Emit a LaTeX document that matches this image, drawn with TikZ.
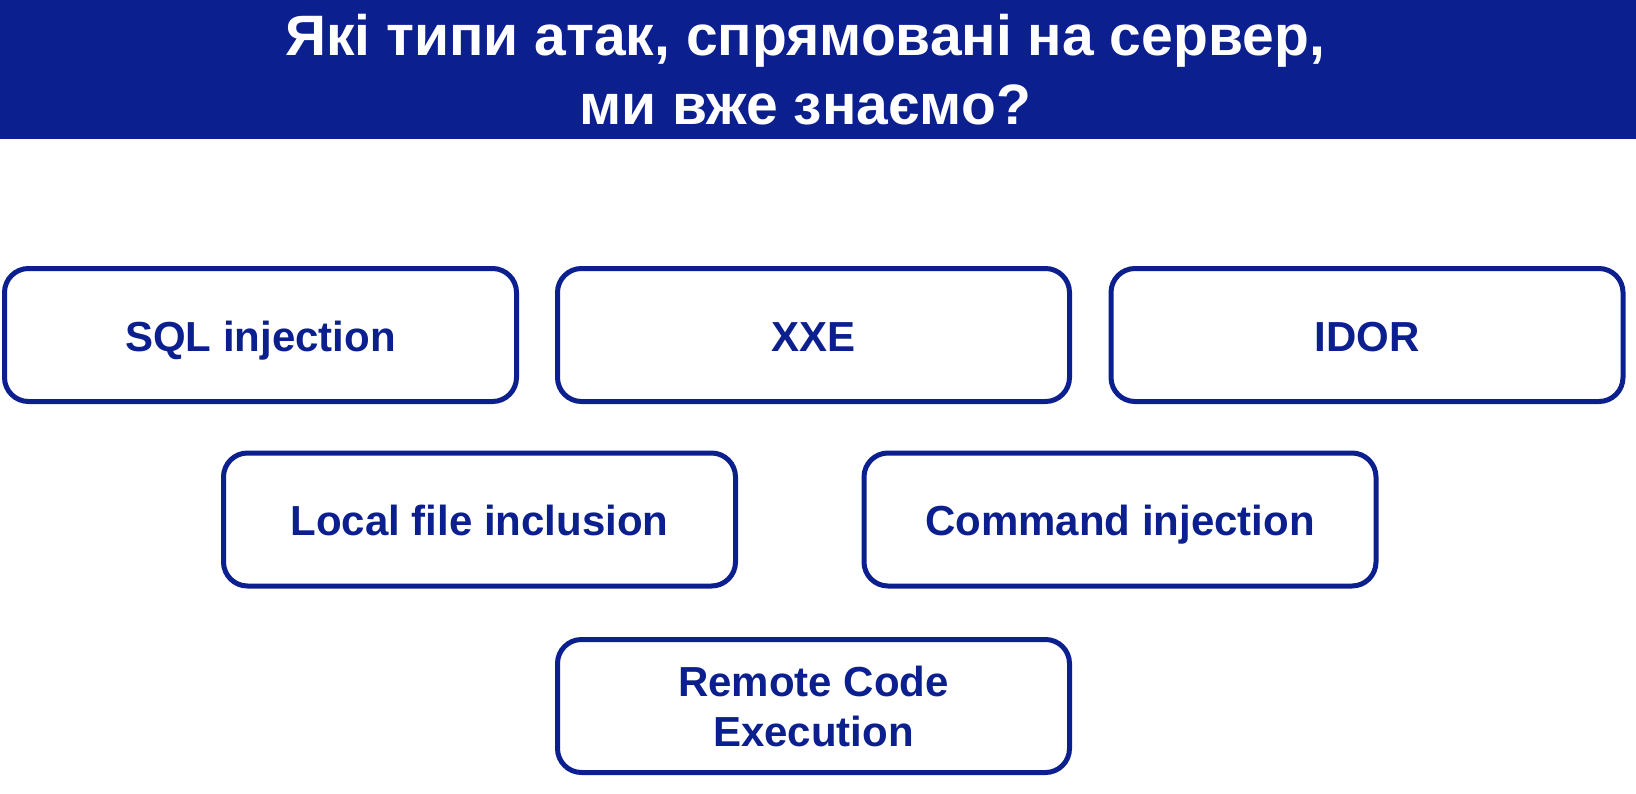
\documentclass[tikz,border=0pt]{standalone}
\usepackage{fontspec}
\setmainfont{Liberation Sans}
\definecolor{darkblue}{RGB}{12,31,143}

\begin{document}
\begin{tikzpicture}
[every node/.style={inner sep=0pt},
 attackbox/.style={rectangle, rounded corners=24pt, minimum width=512pt, minimum height=133pt, fill=white, line width=5pt, draw=darkblue, text=darkblue, font=\fontsize{42}{50}\selectfont\bfseries, align=center},
 oneline/.style={text height=32pt, text depth=0pt}]
\useasboundingbox (0pt, 0pt) rectangle (1636pt, -793pt);
\node (band) [rectangle, anchor=north west, minimum width=1636pt, minimum height=139pt, fill=darkblue] at (0pt, 0pt) {};
\node (title) [text=white, align=center, font=\fontsize{57}{69}\selectfont\bfseries] at (805pt, -70pt) {Які типи атак, спрямовані на сервер,\\ми вже знаємо?};
\node (sql) [attackbox, oneline] at (260.5pt, -335pt) {SQL injection};
\node (xxe) [attackbox, oneline] at (813.5pt, -335pt) {XXE};
\node (idor) [attackbox, oneline] at (1367pt, -335pt) {IDOR};
\node (lfi) [attackbox, oneline] at (479.5pt, -519.5pt) {Local file inclusion};
\node (cmdi) [attackbox, oneline] at (1120pt, -519.5pt) {Command injection};
\node (rce) [attackbox] at (813.5pt, -706pt) {Remote Code\\Execution};
\end{tikzpicture}
\end{document}
